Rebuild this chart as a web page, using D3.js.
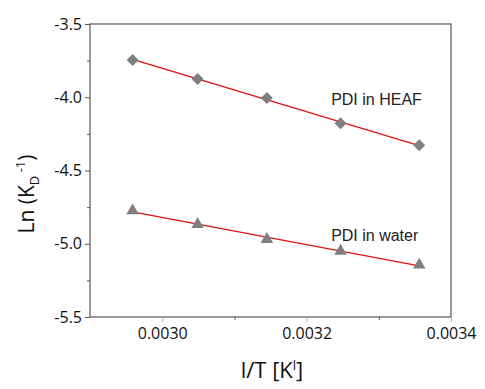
<!DOCTYPE html>
<html>
<head>
<meta charset="utf-8">
<script src="https://cdn.jsdelivr.net/npm/d3@7"></script>
<style>
  html, body { margin: 0; padding: 0; background: #fff; }
  svg text { font-family: "Open Sans", sans-serif; fill: #111; }
</style>
</head>
<body>
<svg id="chart" width="485" height="389"></svg>
<script>
// inverse temperature (1/T) for the five measurements
var invT = [0.002959, 0.003049, 0.003145, 0.003247, 0.003356];
// Ln(K_D^-1)
var heafVals = [-3.746, -3.875, -4.005, -4.178, -4.328];
var waterVals = [-4.774, -4.868, -4.970, -5.050, -5.145];

var yTicks = [-3.5, -4.0, -4.5, -5.0, -5.5];
var yMinor = [-3.75, -4.25, -4.75, -5.25];
var xTicks = [0.0030, 0.0032, 0.0034];
var xMinor = [0.0031, 0.0033];

var margin = { left: 90, top: 24, right: 34, bottom: 72 };
var W = 485, H = 389;

var svg = d3.select('#chart');

var x = d3.scaleLinear().domain([0.0029, 0.0034]).range([margin.left, W - margin.right]);
var y = d3.scaleLinear().domain([-5.5, -3.5]).range([H - margin.bottom, margin.top]);

var axisColor = '#555';

// frame
svg.append('rect')
    .attr('x', x.range()[0]).attr('y', y.range()[1])
    .attr('width', x.range()[1] - x.range()[0])
    .attr('height', y.range()[0] - y.range()[1])
    .attr('fill', 'none').attr('stroke', axisColor).attr('stroke-width', 1.2);

// y axis
var yAxis = svg.append('g')
    .attr('transform', 'translate(' + margin.left + ',0)')
    .call(d3.axisLeft(y).tickValues(yTicks).tickSize(5).tickPadding(3)
        .tickFormat(d3.format('.1f')));
yAxis.select('.domain').remove();
yAxis.selectAll('line').attr('stroke', axisColor);
yAxis.selectAll('text').attr('font-size', 16).style('fill', '#111')
    .text(function(d) { return d3.format('.1f')(d).replace('\u2212', '-'); });

var yAxisMinor = svg.append('g')
    .attr('transform', 'translate(' + margin.left + ',0)')
    .call(d3.axisLeft(y).tickValues(yMinor).tickSize(3).tickFormat(''));
yAxisMinor.select('.domain').remove();
yAxisMinor.selectAll('line').attr('stroke', axisColor);

// x axis
var xAxis = svg.append('g')
    .attr('transform', 'translate(0,' + (H - margin.bottom) + ')')
    .call(d3.axisBottom(x).tickValues(xTicks).tickSize(5).tickPadding(6)
        .tickFormat(d3.format('.4f')));
xAxis.select('.domain').remove();
xAxis.selectAll('line').attr('stroke', '#aaa');
xAxis.selectAll('text').attr('font-size', 16).style('fill', '#111');

var xAxisMinor = svg.append('g')
    .attr('transform', 'translate(0,' + (H - margin.bottom) + ')')
    .call(d3.axisBottom(x).tickValues(xMinor).tickSize(3).tickFormat(''));
xAxisMinor.select('.domain').remove();
xAxisMinor.selectAll('line').attr('stroke', axisColor);

// linear fit through each series
function fit(xs, ys) {
    var mx = d3.mean(xs), my = d3.mean(ys);
    var num = d3.sum(xs, function(v, i) { return (v - mx) * (ys[i] - my); });
    var den = d3.sum(xs, function(v) { return (v - mx) * (v - mx); });
    var b = num / den;
    return function(v) { return my + b * (v - mx); };
}

var series = [
    { vals: heafVals, symbol: d3.symbolSquare, size: 72, rot: 45, label: 'PDI in HEAF', lx: 0.003234, ly: -4.05 },
    { vals: waterVals, symbol: d3.symbolTriangle, size: 68, rot: 0, label: 'PDI in water', lx: 0.003234, ly: -4.98 }
];

series.forEach(function(s) {
    var f = fit(invT, s.vals);
    var xs = d3.extent(invT);
    svg.append('line')
        .attr('x1', x(xs[0])).attr('y1', y(f(xs[0])))
        .attr('x2', x(xs[1])).attr('y2', y(f(xs[1])))
        .attr('stroke', '#e01010').attr('stroke-width', 1.3);

    svg.append('g').selectAll('path')
        .data(invT)
        .join('path')
        .attr('d', d3.symbol().type(s.symbol).size(s.size))
        .attr('transform', function(d, i) {
            return 'translate(' + x(d) + ',' + y(s.vals[i]) + ') rotate(' + s.rot + ')';
        })
        .attr('fill', '#7f7f7f');

    svg.append('text')
        .attr('x', x(s.lx)).attr('y', y(s.ly))
        .attr('font-size', 16)
        .style('font-family', '"Liberation Sans", Arial, sans-serif')
        .style('fill', '#222')
        .text(s.label);
});

// axis titles
var xt = svg.append('text')
    .attr('x', 272).attr('y', 378)
    .attr('text-anchor', 'middle')
    .attr('font-size', 22);
xt.append('tspan').text('l/T [K');
xt.append('tspan').attr('dy', -8).attr('font-size', 13).text('l');
xt.append('tspan').attr('dy', 8).text(']');

var yt = svg.append('text')
    .attr('transform', 'translate(34,194) rotate(-90)')
    .attr('text-anchor', 'middle')
    .attr('font-size', 21);
yt.append('tspan').text('Ln (K');
yt.append('tspan').attr('dy', 5).attr('font-size', 13).text('D');
yt.append('tspan').attr('dy', -14).attr('font-size', 13).text(' -1');
yt.append('tspan').attr('dy', 9).text(')');
</script>
</body>
</html>
